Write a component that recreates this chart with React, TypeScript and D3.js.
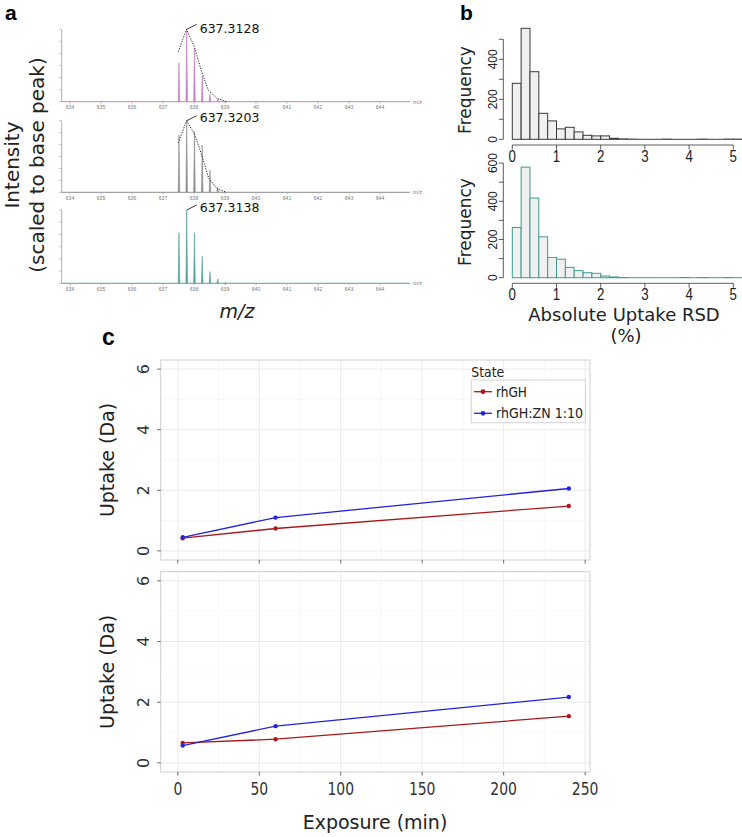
import React from "react";
import * as d3 from "d3";

// ---------- Panel a data ----------
const mzTicks = [634, 635, 636, 637, 638, 639, 640, 641, 642, 643, 644];
const mzTickLabelsTop = ["634", "635", "636", "637", "638", "639", "40", "641", "642", "643", "644"];
const mzTickLabels = ["634", "635", "636", "637", "638", "639", "640", "641", "642", "643", "644"];

const peakMzTop = [637.515, 637.765, 638.015, 638.265, 638.515, 638.765];
const peakIntTop = [0.54, 1.0, 0.74, 0.36, 0.11, 0.04];
const envMzTop = [637.49, 637.76, 638.01, 638.25, 638.46, 638.73, 639.05];
const envIntTop = [0.69, 1.0, 0.76, 0.41, 0.16, 0.05, 0];

const peakMzMid = [637.515, 637.765, 638.015, 638.265, 638.515, 638.765];
const peakIntMid = [0.8, 1.0, 0.85, 0.66, 0.31, 0.07];
const envMzMid = [637.49, 637.76, 638.01, 638.25, 638.47, 638.74, 639.05];
const envIntMid = [0.69, 1.0, 0.82, 0.52, 0.2, 0.05, 0];

const peakMzBot = [637.515, 637.765, 638.015, 638.265, 638.515, 638.765, 639.015];
const peakIntBot = [0.69, 1.0, 0.69, 0.37, 0.16, 0.06, 0.015];

const labelTop = "637.3128";
const labelMid = "637.3203";
const labelBot = "637.3138";

// ---------- Panel b data ----------
const binStarts = [0, 0.2, 0.4, 0.6, 0.8, 1.0, 1.2, 1.4, 1.6, 1.8, 2.0, 2.2, 2.4, 2.6, 2.8, 3.0, 3.2, 3.4, 3.6, 3.8, 4.0, 4.2, 4.4, 4.6, 4.8, 5.0];
const binWidth = 0.2;
const countsTop = [280, 555, 338, 130, 92, 52, 60, 37, 20, 17, 17, 5, 2, 1, 0, 0, 0, 1, 0, 0, 0, 1, 0, 0, 1, 1];
const countsBot = [263, 579, 417, 214, 106, 97, 54, 37, 26, 23, 9, 4, 1, 0, 0, 0, 0, 0, 0, 1, 0, 1, 0, 0, 1, 0];
const rsdTicks = [0, 1, 2, 3, 4, 5];
const freqTicksTop = [0, 100, 200, 300, 400, 500];
const freqLabelsTop = [0, 200, 400];
const freqTicksBot = [0, 100, 200, 300, 400, 500, 600];
const freqLabelsBot = [0, 200, 400, 600];

// ---------- Panel c data ----------
const exposure = [3, 60, 240];
const topRhGH = [0.42, 0.74, 1.48];
const topZN = [0.45, 1.1, 2.06];
const botRhGH = [0.66, 0.78, 1.54];
const botZN = [0.57, 1.21, 2.17];
const expMajor = [0, 50, 100, 150, 200, 250];
const expMinor = [25, 75, 125, 175, 225];
const upMajor = [0, 2, 4, 6];
const upMinor = [1, 3, 5];
const stateNames = ["rhGH", "rhGH:ZN 1:10"];
const stateColors = ["#a8191b", "#2323dc"];

const xA = d3.scaleLinear().domain([634, 644]).range([70, 380]);

function Spectrum(props: any) {
  const { top, base, color, tickLabels, peakMz, peakInt, envMz, envInt, label, labelDy } = props;
  const y = d3.scaleLinear().domain([0, 1]).range([base, top]);
  const axisX = xA(633.73);
  const endX = xA(644.97);
  const yTicks = [0, 1 / 6, 2 / 6, 3 / 6, 4 / 6, 5 / 6, 1];
  const env = envMz
    ? d3.line<number>().x((d, i) => xA(envMz[i])).y((d) => y(d))(envInt)
    : null;
  const bi = peakInt.indexOf(1.0);
  const px = xA(peakMz[bi]);
  const py = y(1.0);
  return (
    <g>
      <line x1={axisX} x2={axisX} y1={top} y2={base} stroke="#a0a0a0" strokeWidth={0.8} />
      {yTicks.map((t, i) => (
        <line key={i} x1={axisX - 2.5} x2={axisX} y1={y(t)} y2={y(t)} stroke="#a0a0a0" strokeWidth={0.6} />
      ))}
      <line x1={axisX} x2={endX} y1={base} y2={base} stroke={color} strokeWidth={1} />
      <text x={endX + 3} y={base + 2} fontSize={5.5} fill="#777" fontFamily="Liberation Sans">m/z</text>
      {mzTicks.map((m, i) => (
        <g key={m}>
          <line x1={xA(m)} x2={xA(m)} y1={base} y2={base + 2} stroke="#999" strokeWidth={0.6} />
          <text x={xA(m)} y={base + 7.5} fontSize={5} fill="#777" textAnchor="middle" fontFamily="Liberation Sans">
            {tickLabels[i]}
          </text>
        </g>
      ))}
      {peakMz.map((m: number, i: number) => (
        <path
          key={i}
          d={`M${xA(m) - 0.8},${base} L${xA(m)},${y(peakInt[i])} L${xA(m) + 0.8},${base}`}
          fill={color}
          stroke={color}
          strokeWidth={0.6}
        />
      ))}
      {env && <path d={env} fill="none" stroke="#222" strokeWidth={1} strokeDasharray="1.2,1.4" />}
      <line x1={px} y1={py} x2={px + 10} y2={py - 5} stroke="#222" strokeWidth={0.9} />
      <text x={px + 13} y={py + labelDy} fontSize={12.5} fill="#111">{label}</text>
    </g>
  );
}

const xB = d3.scaleLinear().domain([0, 5]).range([512.3, 733.3]);

function Hist(props: any) {
  const { counts, yMax, base, topPx, axisY, ticks, labels, stroke, freqCenter } = props;
  const y = d3.scaleLinear().domain([0, yMax]).range([base, topPx]);
  const axisX = 503.3;
  return (
    <g>
      {binStarts.map((s, i) =>
        counts[i] > 0 ? (
          <rect
            key={i}
            x={xB(s)}
            y={y(counts[i])}
            width={xB(s + binWidth) - xB(s)}
            height={y(0) - y(counts[i])}
            fill="#f0f0f0"
            stroke={stroke}
            strokeWidth={1}
          />
        ) : (
          <line key={i} x1={xB(s)} x2={xB(s + binWidth)} y1={y(0)} y2={y(0)} stroke={stroke} strokeWidth={1} />
        )
      )}
      <line x1={axisX} x2={axisX} y1={y(0)} y2={y(yMax)} stroke="#333" strokeWidth={0.8} />
      {ticks.map((t: number) => (
        <line key={t} x1={axisX - 4.5} x2={axisX} y1={y(t)} y2={y(t)} stroke="#333" strokeWidth={0.8} />
      ))}
      {labels.map((t: number) => (
        <text
          key={t}
          transform={`translate(${axisX - 6.5},${y(t)}) rotate(-90)`}
          textAnchor="middle"
          fontSize={12}
          fontFamily="Liberation Sans"
          fill="#222"
        >
          {t}
        </text>
      ))}
      <line x1={xB(0)} x2={xB(5)} y1={axisY} y2={axisY} stroke="#333" strokeWidth={0.8} />
      {rsdTicks.map((t) => (
        <g key={t}>
          <line x1={xB(t)} x2={xB(t)} y1={axisY} y2={axisY + 4.5} stroke="#333" strokeWidth={0.8} />
          <text
            transform={`translate(${xB(t)},${axisY + 16.5}) scale(0.78,1)`}
            textAnchor="middle"
            fontSize={17}
            fontFamily="Liberation Sans"
            fill="#222"
          >
            {t}
          </text>
        </g>
      ))}
      <text
        transform={`translate(471,${freqCenter}) rotate(-90)`}
        textAnchor="middle"
        fontSize={17}
        fill="#222"
      >
        Frequency
      </text>
    </g>
  );
}

const xC = d3.scaleLinear().domain([-10.5, 253]).range([160.7, 590]);

function UptakePanel(props: any) {
  const { top, bottom, rhgh, zn, showLabels, showLegend } = props;
  const y = d3.scaleLinear().domain([-0.3, 6.3]).range([bottom, top]);
  const left = xC.range()[0];
  const right = xC.range()[1];
  const series = [rhgh, zn];
  const line = d3.line<number>().x((d, i) => xC(exposure[i])).y((d) => y(d));
  return (
    <g>
      <rect x={left} y={top} width={right - left} height={bottom - top} fill="#fff" />
      {expMinor.map((v) => (
        <line key={"xm" + v} x1={xC(v)} x2={xC(v)} y1={top} y2={bottom} stroke="#f3f3f3" strokeWidth={0.6} />
      ))}
      {upMinor.map((v) => (
        <line key={"ym" + v} x1={left} x2={right} y1={y(v)} y2={y(v)} stroke="#f3f3f3" strokeWidth={0.6} />
      ))}
      {expMajor.map((v) => (
        <line key={"xM" + v} x1={xC(v)} x2={xC(v)} y1={top} y2={bottom} stroke="#e6e6e6" strokeWidth={0.8} />
      ))}
      {upMajor.map((v) => (
        <line key={"yM" + v} x1={left} x2={right} y1={y(v)} y2={y(v)} stroke="#e6e6e6" strokeWidth={0.8} />
      ))}
      <rect x={left} y={top} width={right - left} height={bottom - top} fill="none" stroke="#cfcfcf" strokeWidth={1} />
      {upMajor.map((v) => (
        <g key={"yt" + v}>
          <line x1={left - 3.5} x2={left} y1={y(v)} y2={y(v)} stroke="#444" strokeWidth={0.8} />
          <text
            transform={`translate(${left - 12},${y(v)}) rotate(-90)`}
            textAnchor="middle"
            fontSize={16}
            fill="#333"
          >
            {v}
          </text>
        </g>
      ))}
      {expMajor.map((v) => (
        <g key={"xt" + v}>
          <line x1={xC(v)} x2={xC(v)} y1={bottom} y2={bottom + 3.5} stroke="#444" strokeWidth={0.8} />
          {showLabels && (
            <text
              transform={`translate(${xC(v)},${bottom + 23}) scale(0.82,1)`}
              textAnchor="middle"
              fontSize={17}
              fill="#333"
            >
              {v}
            </text>
          )}
        </g>
      ))}
      {series.map((s: number[], k: number) => (
        <g key={k}>
          <path d={line(s) as string} fill="none" stroke={stateColors[k]} strokeWidth={1.3} />
          {s.map((v, i) => (
            <circle key={i} cx={xC(exposure[i])} cy={y(v)} r={2.2} fill={stateColors[k]} />
          ))}
        </g>
      ))}
      <text
        transform={`translate(114,${(top + bottom) / 2}) rotate(-90)`}
        textAnchor="middle"
        fontSize={19}
        fill="#222"
      >
        Uptake (Da)
      </text>
      {showLegend && (
        <g>
          <text x={471.3} y={377} fontSize={14} fill="#222" textLength={33} lengthAdjust="spacingAndGlyphs">
            State
          </text>
          <rect x={471.3} y={380} width={114} height={42.7} fill="#fff" stroke="#d4d4d4" strokeWidth={1} />
          {stateNames.map((nm, k) => {
            const ky = 391.7 + k * 21.6;
            return (
              <g key={nm}>
                <line x1={474} x2={492} y1={ky} y2={ky} stroke={stateColors[k]} strokeWidth={1.3} />
                <circle cx={483} cy={ky} r={2.4} fill={stateColors[k]} />
                <text
                  x={496}
                  y={ky + 5}
                  fontSize={14}
                  fill="#222"
                  textLength={k === 0 ? 31 : 87}
                  lengthAdjust="spacingAndGlyphs"
                >
                  {nm}
                </text>
              </g>
            );
          })}
        </g>
      )}
    </g>
  );
}

export default function App() {
  return (
    <svg
      width={742}
      height={837}
      style={{ position: "absolute", left: 0, top: 0, background: "#fff" }}
      fontFamily="DejaVu Sans"
    >
      <rect x={0} y={0} width={742} height={837} fill="#fff" />
      {/* Panel letters */}
      <text x={5} y={20} fontSize={21} fontWeight="bold" fontFamily="Liberation Sans">a</text>
      <text x={460} y={20} fontSize={21} fontWeight="bold" fontFamily="Liberation Sans">b</text>
      <text x={102} y={345} fontSize={23} fontWeight="bold" fontFamily="Liberation Sans">c</text>

      {/* Panel a */}
      <Spectrum top={29.3} base={101.7} color="#c77dc6" tickLabels={mzTickLabelsTop}
        peakMz={peakMzTop} peakInt={peakIntTop} envMz={envMzTop} envInt={envIntTop} label={labelTop} labelDy={4} />
      <Spectrum top={120.7} base={192.3} color="#8e8e8e" tickLabels={mzTickLabels}
        peakMz={peakMzMid} peakInt={peakIntMid} envMz={envMzMid} envInt={envIntMid} label={labelMid} labelDy={1} />
      <Spectrum top={210} base={283.3} color="#4fa39b" tickLabels={mzTickLabels}
        peakMz={peakMzBot} peakInt={peakIntBot} envMz={null} envInt={null} label={labelBot} labelDy={2} />
      <text transform="translate(19,165) rotate(-90)" textAnchor="middle" fontSize={20} fill="#222">Intensity</text>
      <text transform="translate(44,165) rotate(-90)" textAnchor="middle" fontSize={20} fill="#222">(scaled to base peak)</text>
      <text x={237} y={318} textAnchor="middle" fontSize={19} fontStyle="italic" fill="#222">m/z</text>

      {/* Panel b */}
      <Hist counts={countsTop} yMax={500} base={139.3} topPx={39.3} axisY={145} ticks={freqTicksTop}
        labels={freqLabelsTop} stroke="#3a3a3a" freqCenter={90} />
      <Hist counts={countsBot} yMax={600} base={277.7} topPx={163.1} axisY={283.3} ticks={freqTicksBot}
        labels={freqLabelsBot} stroke="#3f9b91" freqCenter={222} />
      <text x={624} y={321} textAnchor="middle" fontSize={18} fill="#222">Absolute Uptake RSD</text>
      <text x={626} y={342} textAnchor="middle" fontSize={18} fill="#222">(%)</text>

      {/* Panel c */}
      <UptakePanel top={360} bottom={560} rhgh={topRhGH} zn={topZN} showLabels={false} showLegend={true} />
      <UptakePanel top={571.7} bottom={772} rhgh={botRhGH} zn={botZN} showLabels={true} showLegend={false} />
      <text x={375} y={829} textAnchor="middle" fontSize={19} fill="#222">Exposure (min)</text>
    </svg>
  );
}
